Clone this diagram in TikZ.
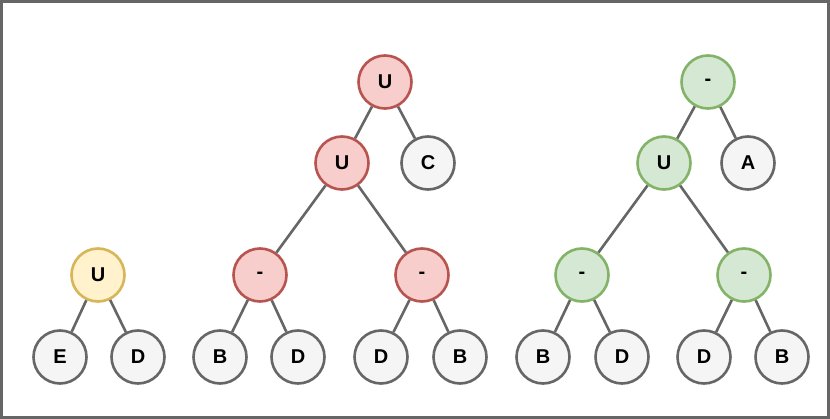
\documentclass[tikz,border=0pt]{standalone}
\usepackage{fontspec}
\setmainfont{Liberation Sans}
\begin{document}
\begin{tikzpicture}[x=1pt,y=-1pt,
 nd/.style={circle,minimum size=53pt,inner sep=0pt,line width=2.6pt,font=\fontsize{20}{20}\selectfont\bfseries},
 gr/.style={nd,draw=black!60,fill=black!4},
 rd/.style={nd,draw={rgb,255:red,184;green,84;blue,80},fill={rgb,255:red,248;green,206;blue,204}},
 gn/.style={nd,draw={rgb,255:red,130;green,179;blue,102},fill={rgb,255:red,213;green,232;blue,212}},
 yl/.style={nd,draw={rgb,255:red,214;green,182;blue,86},fill={rgb,255:red,255;green,242;blue,204}},
 ed/.style={line width=2.6pt,draw=black!60}]
\draw[line width=3pt,draw=black!60,fill=white] (1.5,1.5) rectangle (828.5,417.5);
\node[yl] (yu) at (98,275) {U};
\node[gr] (ye) at (60,357) {E};
\node[gr] (yd) at (138,357) {D};
\node[rd] (ru) at (385,82) {U};
\node[rd] (ru2) at (342,163) {U};
\node[gr] (rc) at (428,163) {C};
\node[rd] (rm1) at (260,275) {-};
\node[rd] (rm2) at (422,275) {-};
\node[gr] (rb1) at (220,357) {B};
\node[gr] (rd1) at (298,357) {D};
\node[gr] (rd2) at (381,357) {D};
\node[gr] (rb2) at (460,357) {B};
\node[gn] (gm) at (708,82) {-};
\node[gn] (gu) at (664,163) {U};
\node[gr] (ga) at (748,163) {A};
\node[gn] (gm1) at (582,275) {-};
\node[gn] (gm2) at (744,275) {-};
\node[gr] (gb1) at (543,357) {B};
\node[gr] (gd1) at (622,357) {D};
\node[gr] (gd2) at (704,357) {D};
\node[gr] (gb2) at (782,357) {B};
\foreach \a/\b in {yu/ye,yu/yd,ru/ru2,ru/rc,ru2/rm1,ru2/rm2,rm1/rb1,rm1/rd1,rm2/rd2,rm2/rb2,gm/gu,gm/ga,gu/gm1,gu/gm2,gm1/gb1,gm1/gd1,gm2/gd2,gm2/gb2}
 \draw[ed] (\a) -- (\b);
\end{tikzpicture}
\end{document}
